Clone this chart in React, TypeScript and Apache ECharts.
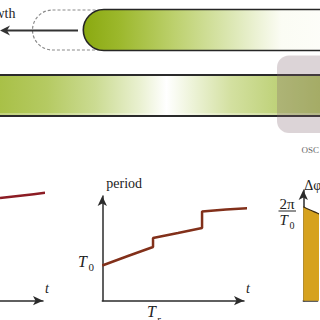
import React, { useEffect, useRef } from "react";
import * as echarts from "echarts";

// period plot (middle): t vs period, with two upward jumps
const periodT = [0, 1.81, 3.58, 3.58, 5.34, 7.04, 7.04, 8.73, 10.42];
const periodV = [3.36, 4.27, 5.13, 5.99, 6.47, 6.94, 8.52, 8.71, 8.85];
// left (cut-off) plot
const leftT = [0, 5.23, 10.47];
const leftV = [8.73, 8.94, 9.18];
// right (cut-off) phase plot
const phaseT = [0, 8, 16.7, 30];
const phaseV = [8.49, 8.19, 7.9, 7.4];

const SERIF = "'Liberation Serif', 'DejaVu Serif', serif";
const AX = "#2b2b2b";

const pairs = (xs: number[], ys: number[]) => xs.map((x, i) => [x, ys[i]]);

const axisLine = {
  show: true,
  symbol: ["none", "arrow"],
  symbolSize: [7, 10],
  lineStyle: { color: AX, width: 1.5 },
};
const bare = {
  axisTick: { show: false },
  axisLabel: { show: false },
  splitLine: { show: false },
};
const tName = {
  name: "t",
  nameLocation: "end",
  nameGap: 2,
  nameTextStyle: {
    fontFamily: SERIF,
    fontStyle: "italic",
    fontSize: 14,
    color: "#222",
    align: "left",
    verticalAlign: "bottom",
    padding: [0, 0, 5, 0],
  },
};

export default function App() {
  const ref = useRef<HTMLDivElement>(null);
  useEffect(() => {
    document.body.style.margin = "0";
    const chart = echarts.init(ref.current!, null, { renderer: "svg" });
    const lg = (stops: [number, string][]) =>
      new echarts.graphic.LinearGradient(
        0,
        0,
        1,
        0,
        stops.map(([offset, color]) => ({ offset, color }))
      );
    const option: any = {
      animation: false,
      backgroundColor: "#ffffff",
      grid: [
        { left: 0, top: 183, width: 43, height: 117.7 },
        { left: 102.3, top: 196, width: 141.7, height: 104.7 },
        { left: 303.3, top: 190, right: 0, height: 110.7 },
      ],
      xAxis: [
        { type: "value", gridIndex: 0, min: 0, max: 10, axisLine, ...bare, ...tName },
        { type: "value", gridIndex: 1, min: 0, max: 10, axisLine, ...bare, ...tName },
        { type: "value", gridIndex: 2, min: 0, max: 16.7, axisLine: { ...axisLine, symbol: "none" }, ...bare },
      ],
      yAxis: [
        { type: "value", gridIndex: 0, min: 0, max: 10, show: false },
        {
          type: "value",
          gridIndex: 1,
          min: 0,
          max: 10,
          axisLine,
          ...bare,
          name: "period",
          nameLocation: "end",
          nameGap: 6,
          nameTextStyle: {
            fontFamily: SERIF,
            fontSize: 14,
            color: "#222",
            align: "left",
            verticalAlign: "bottom",
            padding: [0, 0, 0, 4],
          },
        },
        {
          type: "value",
          gridIndex: 2,
          min: 0,
          max: 10,
          axisLine,
          ...bare,
          name: "Δφ",
          nameLocation: "end",
          nameGap: -2,
          nameTextStyle: {
            fontFamily: SERIF,
            fontSize: 14,
            color: "#222",
            align: "left",
            verticalAlign: "bottom",
            padding: [0, 0, 0, 1],
          },
        },
      ],
      series: [
        {
          type: "line",
          xAxisIndex: 0,
          yAxisIndex: 0,
          data: pairs(leftT, leftV),
          symbol: "none",
          smooth: true,
          clip: false,
          lineStyle: { color: "#8c1c24", width: 2.5 },
          z: 3,
        },
        {
          type: "line",
          xAxisIndex: 1,
          yAxisIndex: 1,
          data: pairs(periodT, periodV),
          symbol: "none",
          clip: false,
          lineStyle: { color: "#82301a", width: 2.5 },
          z: 3,
        },
        {
          type: "line",
          xAxisIndex: 2,
          yAxisIndex: 2,
          data: pairs(phaseT, phaseV),
          symbol: "none",
          smooth: true,
          lineStyle: { color: "#3a2a10", width: 1.2 },
          areaStyle: { color: "#d6a21e", opacity: 1 },
          z: 1,
        },
      ],
      graphic: [
        // previous (dashed) cell outline
        {
          type: "rect",
          shape: { x: 32.5, y: 10, width: 100, height: 40, r: 20 },
          style: { fill: "none", stroke: "#8a8a8a", lineWidth: 1.2, lineDash: [3, 2] },
        },
        // growth arrow
        {
          type: "line",
          shape: { x1: 78, y1: 30.5, x2: 5, y2: 30.5 },
          style: { stroke: "#333", lineWidth: 2 },
        },
        {
          type: "polygon",
          shape: { points: [[0, 30.5], [10, 25.5], [7, 30.5], [10, 35.5]] },
          style: { fill: "#333" },
        },
        // growing cell
        {
          type: "rect",
          shape: { x: 83.3, y: 9.5, width: 300, height: 41, r: [20.5, 0, 0, 20.5] },
          style: {
            fill: lg([
              [0, "#8aa910"],
              [0.12, "#9cb82c"],
              [0.3, "#bcd06c"],
              [0.5, "#dde8b6"],
              [0.66, "#fbfcf4"],
              [1, "#ffffff"],
            ]),
            stroke: "#262626",
            lineWidth: 1.6,
          },
        },
        // long bar
        {
          type: "rect",
          shape: { x: -2, y: 75, width: 324, height: 41 },
          style: {
            fill: lg([
              [0, "#a8c046"],
              [0.15, "#b5ca62"],
              [0.3, "#cbdb92"],
              [0.44, "#eaf1d2"],
              [0.52, "#ffffff"],
              [0.6, "#edf3d8"],
              [0.72, "#d3e0a0"],
              [0.86, "#bfd27a"],
              [1, "#b2c762"],
            ]),
          },
        },
        { type: "line", shape: { x1: 0, y1: 75, x2: 320, y2: 75 }, style: { stroke: "#2a2a2a", lineWidth: 2 } },
        { type: "line", shape: { x1: 0, y1: 116, x2: 320, y2: 116 }, style: { stroke: "#2a2a2a", lineWidth: 2 } },
        { type: "line", shape: { x1: 0, y1: 114, x2: 320, y2: 114 }, style: { stroke: "rgba(255,255,255,0.6)", lineWidth: 1 } },
        // oscillator overlay
        {
          type: "rect",
          shape: { x: 277, y: 55.5, width: 60, height: 77.5, r: 12 },
          style: { fill: "rgba(130,100,110,0.28)" },
        },
        // texts
        {
          type: "text",
          style: { text: "growth", x: 15.5, y: 20, align: "right", verticalAlign: "bottom", font: `14px ${SERIF}`, fill: "#222" },
        },
        {
          type: "text",
          style: { text: "OSC", x: 301.5, y: 154, align: "left", verticalAlign: "bottom", font: `9px ${SERIF}`, fill: "#666" },
        },
        {
          type: "text",
          style: { text: "T", x: 78, y: 269, align: "left", verticalAlign: "bottom", font: `italic 16px ${SERIF}`, fill: "#222" },
        },
        {
          type: "text",
          style: { text: "0", x: 88.5, y: 272, align: "left", verticalAlign: "bottom", font: `11px ${SERIF}`, fill: "#222" },
        },
        {
          type: "text",
          style: { text: "T", x: 147, y: 319, align: "left", verticalAlign: "bottom", font: `italic 16px ${SERIF}`, fill: "#222" },
        },
        {
          type: "text",
          style: { text: "r", x: 157, y: 324, align: "left", verticalAlign: "bottom", font: `italic 10px ${SERIF}`, fill: "#222" },
        },
        {
          type: "text",
          style: { text: "2π", x: 287, y: 211, align: "center", verticalAlign: "bottom", font: `15px ${SERIF}`, fill: "#222" },
        },
        { type: "line", shape: { x1: 278.5, y1: 211, x2: 296, y2: 211 }, style: { stroke: "#222", lineWidth: 1 } },
        {
          type: "text",
          style: { text: "T", x: 279.5, y: 227, align: "left", verticalAlign: "bottom", font: `italic 15px ${SERIF}`, fill: "#222" },
        },
        {
          type: "text",
          style: { text: "0", x: 289.5, y: 230, align: "left", verticalAlign: "bottom", font: `10px ${SERIF}`, fill: "#222" },
        },
      ],
    };
    chart.setOption(option);
    return () => chart.dispose();
  }, []);
  return (
    <div
      ref={ref}
      style={{ width: 320, height: 320, position: "absolute", left: 0, top: 0, background: "#fff" }}
    />
  );
}
